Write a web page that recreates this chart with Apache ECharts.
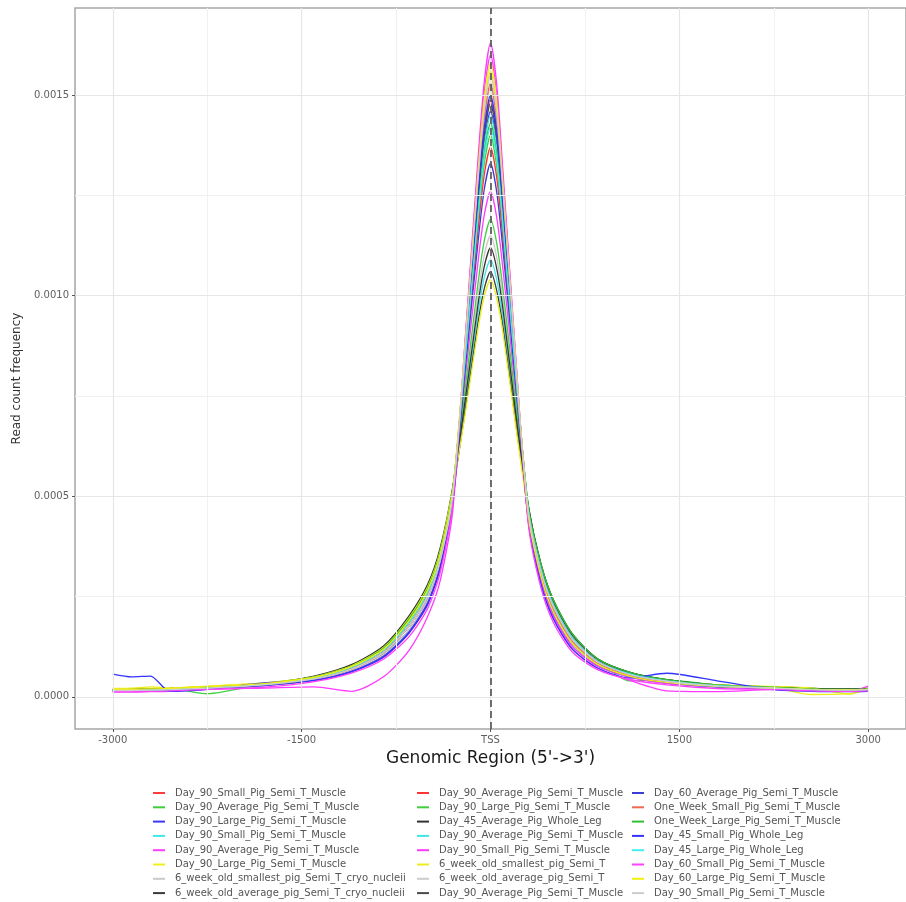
<!DOCTYPE html>
<html>
<head>
<meta charset="utf-8">
<script src="https://cdn.jsdelivr.net/npm/echarts@6/dist/echarts.min.js"></script>
<style>
  html, body { margin: 0; padding: 0; background: #ffffff; }
  #chart { width: 906px; height: 902px; }
</style>
</head>
<body>
<div id="chart"></div>
<script>
// Position relative to the TSS (bp) for every profile point
const positions = [-3000, -2850, -2700, -2550, -2250, -1800, -1400, -1100, -850, -650, -500, -400, -300,
  -200, -100, -50, 0, 50, 100, 200,
  300, 400, 500, 650, 850, 1100, 1400, 1800, 2250, 2550, 2850, 3000];

// Sample names, in legend order (three columns of eight)
const sampleNames = [
  'Day_90_Small_Pig_Semi_T_Muscle', 'Day_90_Average_Pig_Semi_T_Muscle', 'Day_90_Large_Pig_Semi_T_Muscle',
  'Day_90_Small_Pig_Semi_T_Muscle', 'Day_90_Average_Pig_Semi_T_Muscle', 'Day_90_Large_Pig_Semi_T_Muscle',
  '6_week_old_smallest_pig_Semi_T_cryo_nucleii', '6_week_old_average_pig_Semi_T_cryo_nucleii',
  'Day_90_Average_Pig_Semi_T_Muscle', 'Day_90_Large_Pig_Semi_T_Muscle', 'Day_45_Average_Pig_Whole_Leg',
  'Day_90_Average_Pig_Semi_T_Muscle', 'Day_90_Small_Pig_Semi_T_Muscle', '6_week_old_smallest_pig_Semi_T',
  '6_week_old_average_pig_Semi_T', 'Day_90_Average_Pig_Semi_T_Muscle',
  'Day_60_Average_Pig_Semi_T_Muscle', 'One_Week_Small_Pig_Semi_T_Muscle', 'One_Week_Large_Pig_Semi_T_Muscle',
  'Day_45_Small_Pig_Whole_Leg', 'Day_45_Large_Pig_Whole_Leg', 'Day_60_Small_Pig_Semi_T_Muscle',
  'Day_60_Large_Pig_Semi_T_Muscle', 'Day_90_Small_Pig_Semi_T_Muscle'
];

const sampleColors = [
  '#ff3b3b', '#3ecf3e', '#3a3af5', '#3ee8e8', '#ff3cff', '#eeee1a', '#c9c9c9', '#3a3a3a',
  '#ff3434', '#3fcf3f', '#333333', '#40e6e6', '#ff38ff', '#eded1c', '#cccccc', '#4a4a4a',
  '#3b3bd6', '#ee6a50', '#34c034', '#3434ff', '#44eeee', '#ff40ff', '#f0ef10', '#cdcdcd'
];

// Read count frequency per sample, one value per entry of `positions`
const freq01 = [1.6e-5, 1.6e-5, 1.7e-5, 1.8e-5, 2.2e-5, 3.0e-5, 4.5e-5, 7.0e-5, 11.0e-5, 17.5e-5, 25.0e-5, 34.0e-5, 50.0e-5,
  86.5e-5, 124.3e-5, 140.8e-5, 149e-5, 140.0e-5, 121.7e-5, 82.1e-5,
  46e-5, 31e-5, 22e-5, 14e-5, 8.5e-5, 5.5e-5, 3.8e-5, 2.7e-5, 2.2e-5, 1.8e-5, 1.7e-5, 1.8e-5];
const freq02 = [1.9e-5, 1.8e-5, 2.0e-5, 2.1e-5, 2.5e-5, 3.3e-5, 5.0e-5, 7.8e-5, 12.3e-5, 19.6e-5, 27.4e-5, 36.4e-5, 51.8e-5,
  84.1e-5, 118.1e-5, 132.7e-5, 140e-5, 132.0e-5, 115.8e-5, 79.9e-5,
  47.4e-5, 32.9e-5, 23.8e-5, 15.4e-5, 9.4e-5, 4.0e-5, 4.2e-5, 3.0e-5, 2.5e-5, 2.1e-5, 2.0e-5, 2.1e-5];
const freq03 = [1.3e-5, 1.4e-5, 1.5e-5, 1.6e-5, 2.0e-5, 2.8e-5, 4.3e-5, 6.7e-5, 10.5e-5, 16.6e-5, 24.0e-5, 33.0e-5, 49.3e-5,
  85.8e-5, 122.2e-5, 138.1e-5, 146e-5, 137.4e-5, 119.7e-5, 81.4e-5,
  44.6e-5, 29.1e-5, 20.2e-5, 12.6e-5, 7.7e-5, 5.0e-5, 3.4e-5, 2.5e-5, 2.0e-5, 1.6e-5, 1.5e-5, 1.6e-5];
const freq04 = [1.6e-5, 1.7e-5, 1.7e-5, 1.9e-5, 2.3e-5, 3.1e-5, 4.7e-5, 7.4e-5, 11.6e-5, 18.4e-5, 26.0e-5, 35.0e-5, 50.8e-5,
  72.9e-5, 95.4e-5, 104.5e-5, 109e-5, 103.9e-5, 94.2e-5, 69.7e-5,
  46.7e-5, 31.9e-5, 22.9e-5, 14.7e-5, 8.9e-5, 5.8e-5, 4.0e-5, 2.8e-5, 2.2e-5, 1.9e-5, 1.8e-5, 1.8e-5];
const freq05 = [1.5e-5, 1.6e-5, 1.6e-5, 1.8e-5, 2.1e-5, 2.9e-5, 4.1e-5, 6.3e-5, 9.9e-5, 15.8e-5, 23.0e-5, 32.0e-5, 48.5e-5,
  79.6e-5, 108.1e-5, 120.0e-5, 126e-5, 119.4e-5, 106.3e-5, 75.8e-5,
  44.6e-5, 29.1e-5, 20.2e-5, 12.6e-5, 7.7e-5, 5.0e-5, 3.4e-5, 2.6e-5, 2.1e-5, 1.7e-5, 1.7e-5, 1.8e-5];
const freq06 = [2.0e-5, 2.0e-5, 2.1e-5, 2.2e-5, 2.6e-5, 3.4e-5, 5.0e-5, 7.7e-5, 12.1e-5, 19.3e-5, 27.0e-5, 36.0e-5, 51.5e-5,
  88.2e-5, 129.0e-5, 147.0e-5, 156e-5, 146.2e-5, 126.1e-5, 83.5e-5,
  46e-5, 31e-5, 22e-5, 14e-5, 8.5e-5, 5.5e-5, 3.8e-5, 2.9e-5, 2.3e-5, 0.6e-5, 0.8e-5, 1.9e-5];
const freq07 = [1.8e-5, 1.8e-5, 1.9e-5, 2.0e-5, 2.4e-5, 3.2e-5, 4.7e-5, 7.4e-5, 11.6e-5, 18.4e-5, 26.0e-5, 35.0e-5, 50.8e-5,
  75.4e-5, 99.9e-5, 110.0e-5, 115e-5, 109.4e-5, 98.6e-5, 72.0e-5,
  47.1e-5, 32.5e-5, 23.4e-5, 15.1e-5, 9.2e-5, 5.9e-5, 4.1e-5, 2.9e-5, 2.4e-5, 2.0e-5, 1.9e-5, 2.0e-5];
const freq08 = [1.8e-5, 1.9e-5, 1.9e-5, 2.0e-5, 2.4e-5, 3.2e-5, 4.9e-5, 7.6e-5, 11.9e-5, 18.9e-5, 26.6e-5, 35.6e-5, 51.2e-5,
  71.6e-5, 93.1e-5, 101.7e-5, 106e-5, 101.2e-5, 92.0e-5, 68.4e-5,
  47.4e-5, 32.9e-5, 23.8e-5, 15.4e-5, 9.4e-5, 6.1e-5, 4.2e-5, 2.9e-5, 2.4e-5, 2.0e-5, 1.9e-5, 2.0e-5];
const freq09 = [1.6e-5, 1.5e-5, 1.7e-5, 1.8e-5, 2.2e-5, 3.0e-5, 4.5e-5, 7.0e-5, 11.0e-5, 17.5e-5, 25.0e-5, 34.0e-5, 50.0e-5,
  83.2e-5, 116.0e-5, 130.0e-5, 137e-5, 129.3e-5, 113.8e-5, 79.1e-5,
  46.3e-5, 31.4e-5, 22.4e-5, 14.3e-5, 8.7e-5, 5.6e-5, 3.9e-5, 2.7e-5, 2.3e-5, 2.0e-5, 1.8e-5, 1.8e-5];
const freq10 = [1.9e-5, 1.9e-5, 2.0e-5, 2.1e-5, 0.8e-5, 3.3e-5, 5.0e-5, 7.8e-5, 12.3e-5, 19.6e-5, 27.4e-5, 36.4e-5, 51.8e-5,
  77.0e-5, 102.9e-5, 113.6e-5, 119e-5, 113.0e-5, 101.4e-5, 73.4e-5,
  47.7e-5, 33.2e-5, 24.1e-5, 15.7e-5, 9.5e-5, 6.2e-5, 4.3e-5, 3.0e-5, 2.5e-5, 2.1e-5, 2.0e-5, 2.1e-5];
const freq11 = [1.9e-5, 1.9e-5, 2.0e-5, 2.1e-5, 2.5e-5, 3.3e-5, 5.2e-5, 8.1e-5, 12.7e-5, 20.1e-5, 28.0e-5, 37.1e-5, 52.3e-5,
  74.2e-5, 97.6e-5, 107.2e-5, 112e-5, 106.7e-5, 96.4e-5, 70.8e-5,
  47.7e-5, 33.2e-5, 24.1e-5, 15.7e-5, 9.5e-5, 6.2e-5, 4.3e-5, 3.0e-5, 2.5e-5, 2.1e-5, 2.0e-5, 2.1e-5];
const freq12 = [1.5e-5, 1.5e-5, 1.6e-5, 1.7e-5, 2.1e-5, 2.9e-5, 4.5e-5, 7.0e-5, 11.0e-5, 17.5e-5, 25.0e-5, 34.0e-5, 50.0e-5,
  85.5e-5, 121.6e-5, 137.2e-5, 145e-5, 136.5e-5, 119.1e-5, 81.1e-5,
  46e-5, 31e-5, 22e-5, 14e-5, 8.5e-5, 5.5e-5, 3.8e-5, 2.6e-5, 2.1e-5, 1.7e-5, 1.6e-5, 1.7e-5];
const freq13 = [1.2e-5, 1.2e-5, 1.3e-5, 1.4e-5, 1.9e-5, 2.2e-5, 2.5e-5, 1.4e-5, 5.0e-5, 11.5e-5, 20.0e-5, 28.9e-5, 46.3e-5,
  89.7e-5, 133.7e-5, 153.2e-5, 163e-5, 152.4e-5, 130.4e-5, 84.8e-5,
  43.9e-5, 28.2e-5, 19.4e-5, 11.9e-5, 7.2e-5, 4.2e-5, 1.5e-5, 1.3e-5, 1.8e-5, 1.5e-5, 1.4e-5, 2.7e-5];
const freq14 = [2.1e-5, 2.2e-5, 2.5e-5, 2.2e-5, 2.7e-5, 3.5e-5, 5.0e-5, 7.8e-5, 12.3e-5, 19.6e-5, 27.4e-5, 36.4e-5, 51.8e-5,
  70.7e-5, 91.5e-5, 99.8e-5, 104e-5, 99.3e-5, 90.5e-5, 67.6e-5,
  46e-5, 31e-5, 22e-5, 14e-5, 8.5e-5, 5.5e-5, 3.8e-5, 3.0e-5, 2.6e-5, 2.2e-5, 0.7e-5, 2.2e-5];
const freq15 = [1.6e-5, 1.6e-5, 1.7e-5, 1.8e-5, 2.2e-5, 3.0e-5, 4.3e-5, 6.7e-5, 10.5e-5, 16.6e-5, 24.0e-5, 33.0e-5, 49.3e-5,
  87.3e-5, 126.3e-5, 143.4e-5, 152e-5, 142.7e-5, 123.6e-5, 82.7e-5,
  46e-5, 31e-5, 22e-5, 14e-5, 8.5e-5, 5.5e-5, 3.8e-5, 2.7e-5, 2.2e-5, 1.8e-5, 1.7e-5, 1.8e-5];
const freq16 = [1.6e-5, 1.6e-5, 1.7e-5, 1.8e-5, 2.2e-5, 3.0e-5, 4.7e-5, 7.4e-5, 11.6e-5, 18.4e-5, 26.0e-5, 35.0e-5, 50.8e-5,
  86.3e-5, 123.6e-5, 139.9e-5, 148e-5, 139.1e-5, 121.0e-5, 81.8e-5,
  46.7e-5, 31.9e-5, 22.9e-5, 14.7e-5, 8.9e-5, 5.8e-5, 4.0e-5, 2.7e-5, 2.2e-5, 1.8e-5, 1.7e-5, 1.8e-5];
const freq17 = [1.4e-5, 1.4e-5, 1.5e-5, 1.6e-5, 2.0e-5, 2.8e-5, 4.1e-5, 6.4e-5, 10.1e-5, 16.1e-5, 23.4e-5, 32.4e-5, 48.8e-5,
  81.9e-5, 113.1e-5, 126.4e-5, 133e-5, 125.7e-5, 111.1e-5, 77.9e-5,
  45.3e-5, 30.1e-5, 21.1e-5, 13.3e-5, 8.1e-5, 5.2e-5, 3.6e-5, 2.5e-5, 2.0e-5, 1.6e-5, 1.5e-5, 1.6e-5];
const freq18 = [1.7e-5, 1.7e-5, 1.8e-5, 1.9e-5, 2.3e-5, 3.1e-5, 4.5e-5, 7.0e-5, 11.0e-5, 17.5e-5, 25.0e-5, 34.0e-5, 50.0e-5,
  87.5e-5, 127.0e-5, 144.3e-5, 153e-5, 143.6e-5, 124.2e-5, 82.9e-5,
  46e-5, 31e-5, 22e-5, 14e-5, 8.5e-5, 5.5e-5, 3.8e-5, 2.8e-5, 2.3e-5, 1.9e-5, 1.8e-5, 1.9e-5];
const freq19 = [1.8e-5, 1.8e-5, 1.9e-5, 2.0e-5, 2.4e-5, 3.2e-5, 5.0e-5, 7.7e-5, 12.1e-5, 19.3e-5, 27.0e-5, 36.0e-5, 51.5e-5,
  85.0e-5, 120.2e-5, 135.4e-5, 143e-5, 134.7e-5, 117.8e-5, 80.7e-5,
  47.7e-5, 33.2e-5, 24.1e-5, 15.7e-5, 9.5e-5, 6.2e-5, 4.3e-5, 2.9e-5, 2.4e-5, 2.0e-5, 1.9e-5, 2.0e-5];
const freq20 = [5.7e-5, 5.0e-5, 5.2e-5, 1.4e-5, 1.9e-5, 3.5e-5, 4.1e-5, 6.3e-5, 9.9e-5, 15.8e-5, 23.0e-5, 32.0e-5, 48.5e-5,
  86.8e-5, 125.0e-5, 141.7e-5, 150e-5, 140.9e-5, 122.3e-5, 82.3e-5,
  43.9e-5, 28.2e-5, 19.4e-5, 11.9e-5, 7.2e-5, 4.7e-5, 5.9e-5, 4.0e-5, 1.8e-5, 1.4e-5, 1.3e-5, 1.4e-5];
const freq21 = [1.6e-5, 1.7e-5, 1.7e-5, 1.8e-5, 2.2e-5, 3.1e-5, 4.7e-5, 7.4e-5, 11.6e-5, 18.4e-5, 26.0e-5, 35.0e-5, 50.8e-5,
  84.7e-5, 119.5e-5, 134.5e-5, 142e-5, 133.8e-5, 117.1e-5, 80.4e-5,
  46.7e-5, 31.9e-5, 22.9e-5, 14.7e-5, 8.9e-5, 5.8e-5, 4.0e-5, 2.8e-5, 2.2e-5, 1.8e-5, 1.7e-5, 1.8e-5];
const freq22 = [1.3e-5, 1.3e-5, 1.4e-5, 1.5e-5, 1.9e-5, 2.4e-5, 3.8e-5, 6.0e-5, 9.4e-5, 14.9e-5, 22.0e-5, 30.9e-5, 47.8e-5,
  89.1e-5, 131.7e-5, 150.6e-5, 160e-5, 149.8e-5, 128.6e-5, 84.3e-5,
  43.2e-5, 27.3e-5, 18.5e-5, 11.2e-5, 6.8e-5, 4.4e-5, 3.0e-5, 2.1e-5, 1.9e-5, 1.5e-5, 1.4e-5, 1.5e-5];
const freq23 = [1.9e-5, 1.9e-5, 2.0e-5, 2.1e-5, 2.5e-5, 3.3e-5, 4.9e-5, 7.6e-5, 11.9e-5, 18.9e-5, 26.6e-5, 35.6e-5, 51.2e-5,
  88.6e-5, 130.4e-5, 148.8e-5, 158e-5, 148.0e-5, 127.3e-5, 83.9e-5,
  45.3e-5, 30.1e-5, 21.1e-5, 13.3e-5, 8.1e-5, 5.2e-5, 3.6e-5, 2.6e-5, 2.2e-5, 1.9e-5, 1.8e-5, 1.9e-5];
const freq24 = [1.6e-5, 1.6e-5, 1.7e-5, 1.8e-5, 2.2e-5, 3.0e-5, 4.5e-5, 7.0e-5, 11.0e-5, 17.5e-5, 25.0e-5, 34.0e-5, 50.0e-5,
  88.0e-5, 128.4e-5, 146.1e-5, 155e-5, 145.3e-5, 125.5e-5, 83.6e-5,
  46.3e-5, 31.4e-5, 22.4e-5, 14.3e-5, 8.7e-5, 5.6e-5, 3.9e-5, 2.7e-5, 2.2e-5, 1.8e-5, 1.7e-5, 1.8e-5];

const profiles = [freq01, freq02, freq03, freq04, freq05, freq06, freq07, freq08,
  freq09, freq10, freq11, freq12, freq13, freq14, freq15, freq16,
  freq17, freq18, freq19, freq20, freq21, freq22, freq23, freq24];

// Axis ticks and gridlines
const xTickValues = [-3000, -1500, 0, 1500, 3000];
const xTickLabels = ['-3000', '-1500', 'TSS', '1500', '3000'];
const xMinorValues = [-2250, -750, 750, 2250];
const yTickValues = [0, 0.0005, 0.0010, 0.0015];
const yMinorValues = [0.00025, 0.00075, 0.00125];

const FONT = 'DejaVu Sans';

// Legend entries need unique keys because several samples share a label
const keyOf = i => sampleNames[i] + '#' + i;
const labelOf = key => key.split('#')[0];

const curveSeries = profiles.map((vals, i) => ({
  name: keyOf(i),
  type: 'line',
  data: positions.map((x, j) => [x, vals[j]]),
  showSymbol: false,
  smooth: 0.25,
  color: sampleColors[i],
  lineStyle: { width: 1.3, color: sampleColors[i] },
  z: 3,
  animation: false
}));

const majorGrid = { color: '#e6e6e6', width: 1.2, type: 'solid' };
const minorGrid = { color: '#f1f1f1', width: 1, type: 'solid' };

const gridSeries = {
  name: 'panelGrid',
  type: 'line',
  data: [],
  z: 1,
  silent: true,
  animation: false,
  markLine: {
    silent: true,
    symbol: 'none',
    precision: 8,
    label: { show: false },
    animation: false,
    data: [].concat(
      xMinorValues.map(v => ({ xAxis: v, lineStyle: minorGrid })),
      yMinorValues.map(v => ({ yAxis: v, lineStyle: minorGrid })),
      xTickValues.map(v => ({ xAxis: v, lineStyle: majorGrid })),
      yTickValues.map(v => ({ yAxis: v, lineStyle: majorGrid }))
    )
  }
};

const tssSeries = {
  name: 'tssLine',
  type: 'line',
  data: [],
  z: 10,
  silent: true,
  animation: false,
  markLine: {
    silent: true,
    symbol: 'none',
    label: { show: false },
    animation: false,
    data: [{ xAxis: 0, lineStyle: { color: '#4d4d4d', width: 1.6, type: [7, 4] } }]
  }
};

const legendColumn = (from, left) => ({
  orient: 'vertical',
  left: left,
  top: 787,
  padding: 0,
  itemGap: 2.3,
  itemWidth: 12,
  itemHeight: 2,
  icon: 'rect',
  selectedMode: false,
  data: sampleNames.slice(from, from + 8).map((_, k) => keyOf(from + k)),
  formatter: labelOf,
  textStyle: { fontFamily: FONT, fontSize: 10, color: '#555555', lineHeight: 12, padding: [0, 0, 0, 5] }
});

const chart = echarts.init(document.getElementById('chart'), null, { renderer: 'canvas' });
chart.setOption({
  animation: false,
  backgroundColor: '#ffffff',
  grid: {
    left: 75, right: -5, top: 8, bottom: 173,
    show: true, borderColor: '#a6a6a6', borderWidth: 1.5, backgroundColor: 'transparent'
  },
  xAxis: {
    type: 'value',
    min: -3300, max: 3300,
    name: "Genomic Region (5'->3')",
    nameLocation: 'middle',
    nameGap: 21,
    nameTextStyle: { fontFamily: FONT, fontSize: 17, color: '#1a1a1a' },
    axisLine: { show: false, onZero: false },
    axisTick: { show: true, length: 3, customValues: xTickValues, lineStyle: { color: '#555555', width: 1 } },
    axisLabel: {
      customValues: xTickValues,
      margin: 6,
      fontFamily: FONT, fontSize: 10, color: '#606060',
      formatter: v => xTickLabels[xTickValues.indexOf(v)]
    },
    splitLine: { show: false }
  },
  yAxis: {
    type: 'value',
    min: -0.00008, max: 0.001717,
    name: 'Read count frequency',
    nameLocation: 'middle',
    nameGap: 52,
    nameTextStyle: { fontFamily: FONT, fontSize: 12, color: '#333333', padding: [0, 20, 0, 0] },
    axisLine: { show: false, onZero: false },
    axisTick: { show: true, length: 3, customValues: yTickValues, lineStyle: { color: '#555555', width: 1 } },
    axisLabel: {
      customValues: yTickValues,
      margin: 6,
      fontFamily: FONT, fontSize: 10, color: '#606060',
      formatter: v => v.toFixed(4)
    },
    splitLine: { show: false }
  },
  legend: [legendColumn(0, 153), legendColumn(8, 417), legendColumn(16, 632)],
  series: [gridSeries].concat(curveSeries, [tssSeries])
});
</script>
</body>
</html>
